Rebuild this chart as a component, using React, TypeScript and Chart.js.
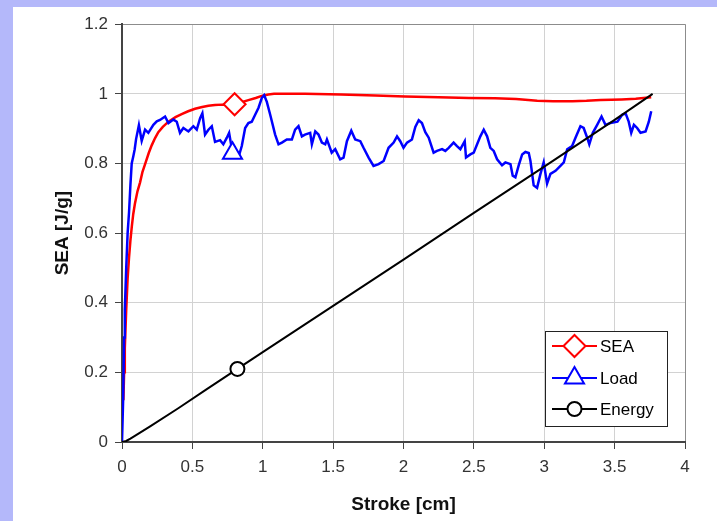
import React, { useEffect, useRef } from 'react';
import { Chart, registerables } from 'chart.js';

Chart.register(...registerables);

// ---------- data ----------
const seriesNames = ['SEA', 'Load', 'Energy'];

const seaStroke = [0.01, 0.015, 0.02, 0.03, 0.04, 0.05, 0.06, 0.07, 0.08, 0.092, 0.11, 0.128, 0.145, 0.164, 0.19, 0.211, 0.235, 0.258, 0.29, 0.33, 0.38, 0.424, 0.47, 0.519, 0.57, 0.614, 0.66, 0.71, 0.76, 0.8, 0.85, 0.898, 0.95, 0.993, 1.04, 1.08, 1.124, 1.3, 1.555, 1.8, 2.01, 2.25, 2.465, 2.65, 2.8, 2.95, 3.063, 3.2, 3.3, 3.4, 3.55, 3.65, 3.76];
const seaValues = [0.12, 0.2, 0.27, 0.38, 0.47, 0.53, 0.58, 0.62, 0.655, 0.685, 0.72, 0.745, 0.775, 0.798, 0.83, 0.852, 0.873, 0.89, 0.905, 0.92, 0.933, 0.942, 0.95, 0.957, 0.962, 0.966, 0.968, 0.969, 0.969, 0.97, 0.976, 0.982, 0.988, 0.994, 0.998, 1.0, 1.0, 1.0, 0.998, 0.995, 0.992, 0.99, 0.988, 0.987, 0.985, 0.98, 0.979, 0.979, 0.98, 0.982, 0.984, 0.986, 0.99];

const loadStroke = [0, 0.008, 0.015, 0.02, 0.03, 0.04, 0.05, 0.06, 0.069, 0.08, 0.09, 0.1, 0.12, 0.14, 0.164, 0.187, 0.223, 0.247, 0.27, 0.306, 0.33, 0.365, 0.389, 0.412, 0.436, 0.472, 0.507, 0.531, 0.555, 0.571, 0.59, 0.614, 0.638, 0.661, 0.697, 0.72, 0.745, 0.761, 0.775, 0.785, 0.81, 0.827, 0.851, 0.875, 0.898, 0.922, 0.946, 0.97, 0.993, 1.01, 1.029, 1.053, 1.088, 1.112, 1.136, 1.171, 1.207, 1.23, 1.254, 1.278, 1.3, 1.337, 1.349, 1.373, 1.396, 1.42, 1.444, 1.456, 1.49, 1.515, 1.55, 1.574, 1.598, 1.629, 1.657, 1.693, 1.716, 1.752, 1.787, 1.823, 1.859, 1.894, 1.93, 1.954, 1.977, 2.0, 2.025, 2.06, 2.084, 2.108, 2.131, 2.155, 2.179, 2.214, 2.238, 2.274, 2.297, 2.321, 2.356, 2.38, 2.404, 2.435, 2.444, 2.475, 2.499, 2.523, 2.546, 2.57, 2.594, 2.617, 2.641, 2.665, 2.7, 2.724, 2.76, 2.776, 2.795, 2.819, 2.843, 2.866, 2.89, 2.902, 2.925, 2.949, 2.973, 2.996, 3.02, 3.044, 3.08, 3.115, 3.139, 3.163, 3.198, 3.222, 3.257, 3.28, 3.305, 3.32, 3.345, 3.376, 3.407, 3.435, 3.47, 3.52, 3.554, 3.578, 3.6, 3.618, 3.637, 3.66, 3.684, 3.72, 3.743, 3.76];
const loadValues = [0, 0.12, 0.3, 0.38, 0.5, 0.6, 0.66, 0.74, 0.8, 0.82, 0.84, 0.87, 0.91, 0.865, 0.897, 0.888, 0.911, 0.921, 0.925, 0.935, 0.916, 0.926, 0.92, 0.888, 0.902, 0.892, 0.907, 0.897, 0.93, 0.944, 0.883, 0.897, 0.907, 0.862, 0.867, 0.855, 0.874, 0.888, 0.855, 0.829, 0.82, 0.817, 0.85, 0.902, 0.916, 0.92, 0.94, 0.96, 0.988, 0.996, 0.977, 0.94, 0.883, 0.855, 0.86, 0.869, 0.869, 0.897, 0.907, 0.878, 0.883, 0.888, 0.855, 0.892, 0.883, 0.86, 0.855, 0.869, 0.831, 0.841, 0.812, 0.817, 0.864, 0.894, 0.869, 0.864, 0.845, 0.817, 0.793, 0.798, 0.807, 0.845, 0.86, 0.878, 0.864, 0.845, 0.86, 0.869, 0.905, 0.924, 0.916, 0.89, 0.874, 0.831, 0.836, 0.841, 0.836, 0.845, 0.86, 0.85, 0.841, 0.864, 0.817, 0.826, 0.831, 0.855, 0.878, 0.897, 0.878, 0.845, 0.836, 0.812, 0.795, 0.803, 0.798, 0.765, 0.76, 0.795, 0.826, 0.833, 0.83, 0.807, 0.737, 0.73, 0.77, 0.803, 0.742, 0.77, 0.779, 0.793, 0.803, 0.841, 0.85, 0.874, 0.907, 0.902, 0.874, 0.855, 0.888, 0.911, 0.935, 0.911, 0.916, 0.92, 0.94, 0.944, 0.92, 0.888, 0.911, 0.902, 0.888, 0.892, 0.92, 0.95];

const energyStroke = [0, 0.03, 0.06, 0.1, 0.2, 0.4, 0.6, 0.82, 1.0, 1.5, 2.0, 2.5, 3.0, 3.5, 3.77];
const energyValues = [0, 0.003, 0.01, 0.02, 0.045, 0.097, 0.151, 0.21, 0.258, 0.391, 0.524, 0.658, 0.791, 0.925, 1.0];

// stroke position of the single marker on each series
const markerStroke = [0.8, 0.785, 0.82];

const xTicks = [0, 0.5, 1, 1.5, 2, 2.5, 3, 3.5, 4];
const xTickLabels = ['0', '0.5', '1', '1.5', '2', '2.5', '3', '3.5', '4'];
const yTicks = [0, 0.2, 0.4, 0.6, 0.8, 1, 1.2];
const yTickLabels = ['0', '0.2', '0.4', '0.6', '0.8', '1', '1.2'];

const xTitle = 'Stroke [cm]';
const yTitle = 'SEA [J/g]';

// ---------- styles ----------
const FONT = "'Liberation Sans', Arial, sans-serif";
const colors = ['#ff0000', '#0000ff', '#000000'];
const lineWidths = [2.5, 2.5, 2];
const pointStyles = ['rectRot', 'triangle', 'circle'];
const markerRadius = [11, 11, 7];

function drawMarker(ctx: CanvasRenderingContext2D, style: string, x: number, y: number, r: number, color: string) {
  ctx.save();
  ctx.beginPath();
  if (style === 'rectRot') {
    ctx.moveTo(x - r, y);
    ctx.lineTo(x, y - r);
    ctx.lineTo(x + r, y);
    ctx.lineTo(x, y + r);
    ctx.closePath();
  } else if (style === 'triangle') {
    ctx.moveTo(x, y - r);
    ctx.lineTo(x + 0.866 * r, y + 0.5 * r);
    ctx.lineTo(x - 0.866 * r, y + 0.5 * r);
    ctx.closePath();
  } else {
    ctx.arc(x, y, r, 0, Math.PI * 2);
  }
  ctx.fillStyle = '#ffffff';
  ctx.fill();
  ctx.lineWidth = 2;
  ctx.strokeStyle = color;
  ctx.stroke();
  ctx.restore();
}

const boxLegend = {
  id: 'boxLegend',
  afterDatasetsDraw(chart: any) {
    const { ctx, chartArea } = chart;
    const w = 122;
    const h = 95;
    const x0 = Math.round(chartArea.right - 18 - w);
    const y0 = Math.round(chartArea.bottom - 16 - h);
    ctx.save();
    ctx.fillStyle = '#ffffff';
    ctx.fillRect(x0, y0, w, h);
    ctx.strokeStyle = '#222222';
    ctx.lineWidth = 1;
    ctx.strokeRect(x0 + 0.5, y0 + 0.5, w, h);
    const rows = [15, 47, 78];
    seriesNames.forEach((name, i) => {
      const cy = y0 + rows[i];
      ctx.beginPath();
      ctx.moveTo(x0 + 7, cy);
      ctx.lineTo(x0 + 52, cy);
      ctx.strokeStyle = colors[i];
      ctx.lineWidth = 2;
      ctx.stroke();
      drawMarker(ctx, pointStyles[i], x0 + 29.5, cy, markerRadius[i], colors[i]);
      ctx.fillStyle = '#000000';
      ctx.font = `17px ${FONT}`;
      ctx.textAlign = 'left';
      ctx.textBaseline = 'middle';
      ctx.fillText(name, x0 + 55, cy + 1);
    });
    ctx.restore();
  },
};

export default function App() {
  const canvasRef = useRef<HTMLCanvasElement | null>(null);

  useEffect(() => {
    if (!canvasRef.current) return;
    const strokes = [seaStroke, loadStroke, energyStroke];
    const values = [seaValues, loadValues, energyValues];
    const orders = [2, 1, 0];

    const datasets = seriesNames.map((name, i) => {
      const data = strokes[i].map((x, k) => ({ x, y: values[i][k] }));
      const mIdx = strokes[i].findIndex((x) => x === markerStroke[i]);
      return {
        label: name,
        data,
        showLine: true,
        borderColor: colors[i],
        borderWidth: lineWidths[i],
        tension: 0,
        order: orders[i],
        pointStyle: pointStyles[i],
        pointRadius: (c: any) => (c.dataIndex === mIdx ? markerRadius[i] : 0),
        pointHoverRadius: (c: any) => (c.dataIndex === mIdx ? markerRadius[i] : 0),
        pointBackgroundColor: '#ffffff',
        pointBorderColor: colors[i],
        pointBorderWidth: 2,
        pointHoverBorderWidth: 2,
      };
    });

    const chart = new Chart(canvasRef.current, {
      type: 'scatter',
      data: { datasets },
      plugins: [boxLegend],
      options: {
        animation: false,
        responsive: false,
        events: [],
        layout: { padding: { left: 0, top: 11, right: 32, bottom: 0 } },
        plugins: {
          legend: { display: false },
          tooltip: { enabled: false },
        },
        scales: {
          x: {
            type: 'linear',
            min: 0,
            max: 4,
            afterBuildTicks: (scale: any) => {
              scale.ticks = xTicks.map((v) => ({ value: v }));
            },
            afterFit: (scale: any) => {
              scale.height = 79;
            },
            ticks: {
              autoSkip: false,
              maxRotation: 0,
              padding: 8,
              color: '#333333',
              font: { family: FONT, size: 17 },
              callback: (_v: any, idx: number) => xTickLabels[idx],
            },
            grid: {
              color: (c: any) => (c.tick && c.tick.value === 4 ? '#8c8c8c' : '#d2d2d2'),
              lineWidth: 1,
              tickLength: 7,
              tickColor: '#444444',
            },
            border: { color: '#444444', width: 2 },
            title: {
              display: true,
              text: xTitle,
              color: '#111111',
              font: { family: FONT, size: 19, weight: 'bold' },
              padding: { top: 0, bottom: 5 },
            },
          },
          y: {
            type: 'linear',
            min: 0,
            max: 1.2,
            afterBuildTicks: (scale: any) => {
              scale.ticks = yTicks.map((v) => ({ value: v }));
            },
            afterFit: (scale: any) => {
              scale.width = 109;
            },
            ticks: {
              autoSkip: false,
              padding: 7,
              color: '#333333',
              font: { family: FONT, size: 17 },
              callback: (_v: any, idx: number) => yTickLabels[idx],
            },
            grid: {
              color: (c: any) => (c.tick && Math.abs(c.tick.value - 1.2) < 1e-9 ? '#8c8c8c' : '#d2d2d2'),
              lineWidth: 1,
              tickLength: 7,
              tickColor: '#444444',
            },
            border: { color: '#444444', width: 2 },
            title: {
              display: true,
              text: yTitle,
              color: '#111111',
              font: { family: FONT, size: 19, weight: 'bold' },
              padding: { top: 38, bottom: 0 },
            },
          },
        },
      } as any,
    });
    return () => chart.destroy();
  }, []);

  return (
    <div
      style={{
        position: 'absolute',
        left: 0,
        top: 0,
        width: 717,
        height: 521,
        background: '#b4b8fa',
        overflow: 'hidden',
      }}
    >
      <div style={{ position: 'absolute', left: 13, top: 7, width: 704, height: 514, background: '#ffffff' }}>
        <canvas ref={canvasRef} width={704} height={514} style={{ display: 'block', width: 704, height: 514 }} />
      </div>
    </div>
  );
}
